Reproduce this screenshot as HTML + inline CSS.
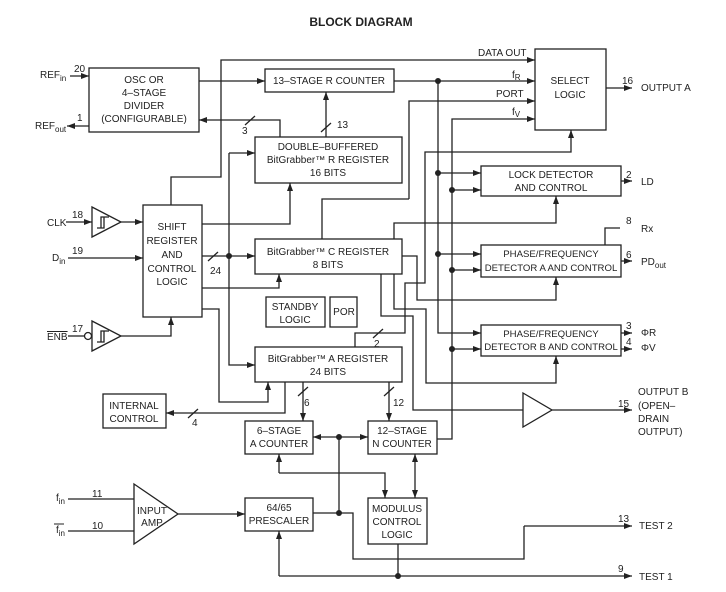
<!DOCTYPE html>
<html><head><style>body{margin:0;background:#fff}svg{display:block}text{font-family:"Liberation Sans",sans-serif;font-size:10px;fill:#222}</style></head><body>
<svg width="726" height="592" viewBox="0 0 726 592" xmlns="http://www.w3.org/2000/svg">
<defs><marker id="a" markerWidth="8" markerHeight="6" refX="8" refY="3" orient="auto-start-reverse" markerUnits="userSpaceOnUse"><path d="M0,0L8,3L0,6z" fill="#222"/></marker></defs>
<text x="361" y="26" text-anchor="middle" style="font-size:12px;font-weight:bold">BLOCK DIAGRAM</text>
<g fill="none" stroke="#222" stroke-width="1.3">
<rect x="89" y="68" width="110" height="64"/>
<rect x="265" y="69" width="129" height="23"/>
<rect x="535" y="49" width="71" height="81"/>
<rect x="255" y="137" width="147" height="46"/>
<rect x="481" y="166" width="140" height="30"/>
<rect x="143" y="205" width="59" height="112"/>
<rect x="255" y="239" width="147" height="35"/>
<rect x="266" y="297" width="59" height="30"/>
<rect x="330" y="297" width="27" height="30"/>
<rect x="481" y="245" width="140" height="32"/>
<rect x="481" y="325" width="140" height="31"/>
<rect x="255" y="347" width="147" height="35"/>
<rect x="103" y="394" width="63" height="34"/>
<rect x="245" y="421" width="68" height="33"/>
<rect x="368" y="421" width="69" height="33"/>
<rect x="245" y="498" width="68" height="33"/>
<rect x="368" y="498" width="59" height="46"/>
<path d="M134,484L178,514L134,544z"/>
<path d="M523,393L552,410L523,427z"/>
<path d="M92,207L121,222L92,237z"/>
<path d="M97,228h7v-11M101,228v-11h8"/>
<path d="M92,321L121,336L92,351z"/>
<circle cx="88" cy="336" r="3.5"/>
<path d="M97,342h7v-11M101,342v-11h8"/>
<g marker-end="url(#a)">
<path d="M70,76H89"/><path d="M89,126H67"/>
<path d="M199,81H265"/>
<path d="M280,137V120H199"/>
<path d="M326,137V92"/>
<path d="M171,205V177H221V60H535"/>
<path d="M394,81H535"/>
<path d="M409,199V101H535" />
<path d="M437,439H452V119H535"/>
<path d="M355,347V333H405V283H425V152H571V130"/>
<path d="M394,239V223H556V196"/>
<path d="M606,88H632"/>
<path d="M621,181H632"/>
<path d="M438,173H481"/><path d="M452,190H481"/>
<path d="M438,254H481"/><path d="M452,270H481"/>
<path d="M438,81V333H481"/><path d="M452,349H481"/>
<path d="M621,261H632"/><path d="M621,333H632"/><path d="M621,349H632"/>
<path d="M402,256H417V300H556V277"/>
<path d="M394,274V309H426V383H556V356"/>
<path d="M552,410H632"/>
<path d="M66,222H92"/><path d="M121,222H143"/>
<path d="M68,258H143"/>
<path d="M121,336H171V317"/>
<path d="M202,224H290V183"/>
<path d="M202,256H255"/>
<path d="M229,153H255"/>
<path d="M229,153V365H255"/>
<path d="M202,288H279V274"/>
<path d="M202,309H219V402H268V382"/>
<path d="M285,382V413H166"/>
<path d="M303,382V421"/><path d="M389,382V421"/>
<path d="M339,437H313"/><path d="M339,437H368"/>
<path d="M524,526H632"/>
<path d="M398,576H632"/>
<path d="M279,576V531"/>
<path d="M279,473V454"/>
<path d="M279,473H385V498"/>
<path d="M415,476V454"/><path d="M415,476V498"/>
<path d="M178,514H245"/>
</g>
<path d="M322,239V199H409"/>
<path d="M605,245V228H620"/>
<path d="M381,274V316H413V410H523"/>
<path d="M339,437V513"/>
<path d="M313,513H353V559H524V526"/>
<path d="M398,544V576H279"/>
<path d="M68,499H134"/><path d="M68,531H134"/>
<path d="M68,336H84"/>
<path d="M245,125l10,-9M321,132l10,-9M208,261l10,-9M188,418l10,-9M298,396l10,-9M384,396l10,-9M373,338l10,-9"/>
</g>
<g fill="#222">
<circle cx="438" cy="81" r="3"/><circle cx="438" cy="173" r="3"/><circle cx="452" cy="190" r="3"/>
<circle cx="438" cy="254" r="3"/><circle cx="452" cy="270" r="3"/><circle cx="452" cy="349" r="3"/>
<circle cx="229" cy="256" r="3"/><circle cx="339" cy="437" r="3"/><circle cx="339" cy="513" r="3"/><circle cx="398" cy="576" r="3"/>
</g>
<g text-anchor="middle">
<text x="144" y="83">OSC OR</text><text x="144" y="96">4–STAGE</text><text x="144" y="109">DIVIDER</text><text x="144" y="122">(CONFIGURABLE)</text>
<text x="329" y="84">13–STAGE R COUNTER</text>
<text x="570" y="84">SELECT</text><text x="570" y="98">LOGIC</text>
<text x="328" y="150">DOUBLE–BUFFERED</text><text x="328" y="163">BitGrabber™ R REGISTER</text><text x="328" y="176">16 BITS</text>
<text x="551" y="178">LOCK DETECTOR</text><text x="551" y="191">AND CONTROL</text>
<text x="172" y="230">SHIFT</text><text x="172" y="244">REGISTER</text><text x="172" y="258">AND</text><text x="172" y="272">CONTROL</text><text x="172" y="285">LOGIC</text>
<text x="328" y="255">BitGrabber™ C REGISTER</text><text x="328" y="268">8 BITS</text>
<text x="295" y="310">STANDBY</text><text x="295" y="323">LOGIC</text>
<text x="344" y="315">POR</text>
<g style="font-size:9.6px"><text x="551" y="257" style="font-size:9.6px">PHASE/FREQUENCY</text><text x="551" y="271" style="font-size:9.6px">DETECTOR A AND CONTROL</text>
<text x="551" y="337" style="font-size:9.6px">PHASE/FREQUENCY</text><text x="551" y="350" style="font-size:9.6px">DETECTOR B AND CONTROL</text></g>
<text x="328" y="362">BitGrabber™ A REGISTER</text><text x="328" y="375">24 BITS</text>
<text x="134" y="409">INTERNAL</text><text x="134" y="422">CONTROL</text>
<text x="279" y="434">6–STAGE</text><text x="279" y="447">A COUNTER</text>
<text x="402" y="434">12–STAGE</text><text x="402" y="447">N COUNTER</text>
<text x="279" y="511">64/65</text><text x="279" y="524">PRESCALER</text>
<text x="397" y="512">MODULUS</text><text x="397" y="525">CONTROL</text><text x="397" y="538">LOGIC</text>
<text x="152" y="514">INPUT</text><text x="152" y="526">AMP</text>
</g>
<text x="40" y="78">REF<tspan dy="3" style="font-size:8px">in</tspan></text>
<text x="35" y="129">REF<tspan dy="3" style="font-size:8px">out</tspan></text>
<text x="74" y="72">20</text><text x="77" y="121">1</text>
<text x="47" y="226">CLK</text><text x="72" y="218">18</text>
<text x="52" y="261">D<tspan dy="3" style="font-size:8px">in</tspan></text><text x="72" y="254">19</text>
<text x="47" y="340" style="text-decoration:overline">ENB</text><text x="72" y="332">17</text>
<text x="56" y="501">f<tspan dy="3" style="font-size:8px">in</tspan></text><text x="92" y="497">11</text>
<text x="56" y="533">f<tspan dy="3" style="font-size:8px">in</tspan></text><path d="M54,524h10" stroke="#222"/><text x="92" y="529">10</text>
<text x="242" y="134">3</text><text x="337" y="128">13</text>
<text x="210" y="274">24</text><text x="192" y="426">4</text><text x="304" y="406">6</text><text x="393" y="406">12</text><text x="374" y="347">2</text>
<text x="478" y="56">DATA OUT</text><text x="512" y="78">f<tspan dy="2" style="font-size:8px">R</tspan></text>
<text x="496" y="97">PORT</text><text x="512" y="115">f<tspan dy="2" style="font-size:8px">V</tspan></text>
<text x="622" y="84">16</text><text x="641" y="91">OUTPUT A</text>
<text x="626" y="178">2</text><text x="641" y="185">LD</text>
<text x="626" y="224">8</text><text x="641" y="232">Rx</text>
<text x="626" y="258">6</text><text x="641" y="265">PD<tspan dy="3" style="font-size:8px">out</tspan></text>
<text x="626" y="329">3</text><text x="641" y="336">ΦR</text>
<text x="626" y="345">4</text><text x="641" y="351">ΦV</text>
<text x="618" y="407">15</text>
<text x="638" y="395">OUTPUT B</text><text x="638" y="409">(OPEN–</text><text x="638" y="422">DRAIN</text><text x="638" y="435">OUTPUT)</text>
<text x="618" y="522">13</text><text x="639" y="529">TEST 2</text>
<text x="618" y="572">9</text><text x="639" y="580">TEST 1</text>
</svg>
</body></html>
